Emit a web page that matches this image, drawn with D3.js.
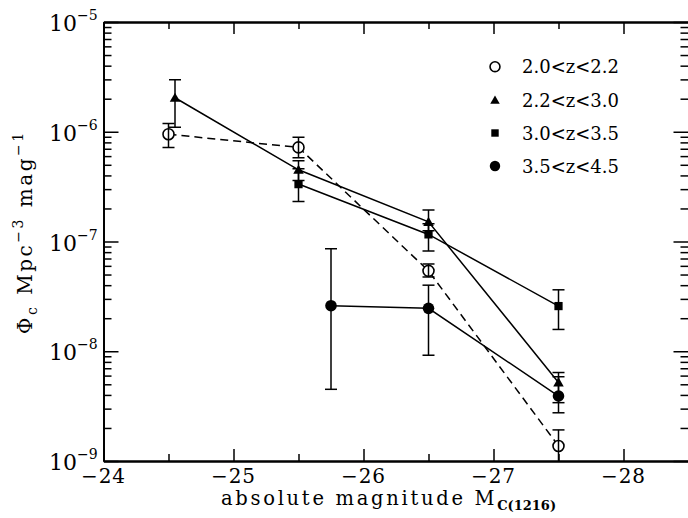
<!DOCTYPE html>
<html>
<head>
<meta charset="utf-8">
<script src="https://cdn.jsdelivr.net/npm/d3@7"></script>
<style>
  html, body { margin: 0; padding: 0; background: #fff; }
  svg { display: block; }
  text { font-family: "DejaVu Serif", "Liberation Serif", serif; fill: #000; }
</style>
</head>
<body>
<svg id="chart" width="688" height="518"></svg>
<script>
// Luminosity function per redshift bin: magnitude, value, lower and upper error
const seriesNames = ["2.0<z<2.2", "2.2<z<3.0", "3.0<z<3.5", "3.5<z<4.5"];

const magZ1 = [-24.5, -25.5, -26.5, -27.5];
const phiZ1 = [9.5e-7, 7.2e-7, 5.4e-8, 1.37e-9];
const loZ1  = [7.2e-7, 5.8e-7, 4.75e-8, 8e-10];
const hiZ1  = [1.19e-6, 8.9e-7, 6.24e-8, 1.92e-9];

const magZ2 = [-24.55, -25.5, -26.5, -27.5];
const phiZ2 = [2.04e-6, 4.5e-7, 1.51e-7, 5.2e-9];
const loZ2  = [1.1e-6, 3.6e-7, 1.25e-7, 3.4e-9];
const hiZ2  = [2.97e-6, 5.45e-7, 1.94e-7, 6.4e-9];

const magZ3 = [-25.5, -26.5, -27.5];
const phiZ3 = [3.34e-7, 1.16e-7, 2.58e-8];
const loZ3  = [2.31e-7, 8.2e-8, 1.58e-8];
const hiZ3  = [4.6e-7, 1.45e-7, 3.63e-8];

const magZ4 = [-25.75, -26.5, -27.5];
const phiZ4 = [2.6e-8, 2.46e-8, 3.91e-9];
const loZ4  = [4.5e-9, 9.2e-9, 2.75e-9];
const hiZ4  = [8.6e-8, 4.0e-8, 5.86e-9];

const xMajorTicks = [-24, -25, -26, -27, -28];
const xMinorTicks = [-24.5, -25.5, -26.5, -27.5, -28.5];
const yMajorTicks = [1e-9, 1e-8, 1e-7, 1e-6, 1e-5];
const yTickExponents = ["−9", "−8", "−7", "−6", "−5"];

const build = (mag, phi, lo, hi) => mag.map((m, i) => ({ m, v: phi[i], lo: lo[i], hi: hi[i] }));
const series = [
  { name: seriesNames[0], data: build(magZ1, phiZ1, loZ1, hiZ1), symbol: "open",     dash: "8,5" },
  { name: seriesNames[1], data: build(magZ2, phiZ2, loZ2, hiZ2), symbol: "triangle", dash: null },
  { name: seriesNames[2], data: build(magZ3, phiZ3, loZ3, hiZ3), symbol: "square",   dash: null },
  { name: seriesNames[3], data: build(magZ4, phiZ4, loZ4, hiZ4), symbol: "filled",   dash: null }
];

const frameLeft = 103.5, frameRight = 688.5, frameTop = 22, frameBottom = 461;
const svg = d3.select("#chart");

const x = d3.scaleLinear().domain([-24, -28.5]).range([frameLeft, frameRight]);
const y = d3.scaleLog().domain([1e-9, 1e-5]).range([frameBottom, frameTop]);

// minor ticks on the log axis: 2..9 in each decade
const yMinorTicks = [];
for (let e = -9; e < -5; e++) for (let k = 2; k <= 9; k++) yMinorTicks.push(k * Math.pow(10, e));

// frame and inward ticks
function drawAxis(gen, transform) {
  const g = svg.append("g").attr("transform", transform).call(gen);
  g.select(".domain").attr("stroke", "#000").attr("stroke-width", 1.8);
  g.selectAll(".tick line").attr("stroke", "#000").attr("stroke-width", 1.5);
  g.selectAll(".tick text").remove();
  return g;
}
drawAxis(d3.axisBottom(x).tickValues(xMajorTicks).tickSizeInner(-12).tickSizeOuter(0), `translate(0,${frameBottom})`);
drawAxis(d3.axisBottom(x).tickValues(xMinorTicks).tickSizeInner(-7).tickSizeOuter(0), `translate(0,${frameBottom})`);
drawAxis(d3.axisTop(x).tickValues(xMajorTicks).tickSizeInner(-12).tickSizeOuter(0), `translate(0,${frameTop})`);
drawAxis(d3.axisTop(x).tickValues(xMinorTicks).tickSizeInner(-7).tickSizeOuter(0), `translate(0,${frameTop})`);
drawAxis(d3.axisLeft(y).tickValues(yMajorTicks).tickSizeInner(-15).tickSizeOuter(0), `translate(${frameLeft},0)`);
drawAxis(d3.axisLeft(y).tickValues(yMinorTicks).tickSizeInner(-8).tickSizeOuter(0), `translate(${frameLeft},0)`);
drawAxis(d3.axisRight(y).tickValues(yMajorTicks).tickSizeInner(-15).tickSizeOuter(0), `translate(${frameRight},0)`);
drawAxis(d3.axisRight(y).tickValues(yMinorTicks).tickSizeInner(-8).tickSizeOuter(0), `translate(${frameRight},0)`);

// x tick labels
svg.append("g").selectAll("text").data(xMajorTicks).join("text")
  .attr("x", d => x(d)).attr("y", frameBottom + 22)
  .attr("text-anchor", "middle").attr("font-size", 20).attr("letter-spacing", 1)
  .text(d => "−" + Math.abs(d));

// y tick labels with exponents
const yl = svg.append("g").selectAll("text").data(yMajorTicks).join("text")
  .attr("x", 49).attr("y", d => y(d) + 9).attr("font-size", 22);
yl.append("tspan").text("10");
yl.append("tspan").attr("dy", -11).attr("font-size", 14).text((d, i) => yTickExponents[i]);

// axis titles
const xt = svg.append("text").attr("x", 221).attr("y", 505).attr("font-size", 19.5)
  .attr("letter-spacing", 2.7);
xt.append("tspan").text("absolute magnitude M");
xt.append("tspan").attr("dy", 5).attr("font-size", 13).attr("font-weight", "bold")
  .attr("letter-spacing", 0).text("C(1216)");

const yt = svg.append("text").attr("transform", "translate(32,334) rotate(-90)")
  .attr("font-size", 20).attr("letter-spacing", 2.5);
yt.append("tspan").text("Φ");
yt.append("tspan").attr("dy", 5).attr("font-size", 14).text("c");
yt.append("tspan").attr("dy", -5).attr("dx", 10).text("Mpc");
yt.append("tspan").attr("dy", -9).attr("font-size", 14).text("−3");
yt.append("tspan").attr("dy", 9).attr("dx", 10).text("mag");
yt.append("tspan").attr("dy", -9).attr("font-size", 14).text("−1");

// plot content clipped to the frame
svg.append("clipPath").attr("id", "plotClip").append("rect")
  .attr("x", frameLeft).attr("y", frameTop).attr("width", frameRight - frameLeft).attr("height", frameBottom - frameTop);
const plot = svg.append("g").attr("clip-path", "url(#plotClip)");

const line = d3.line().x(d => x(d.m)).y(d => y(d.v));

function symbol(sel, type, cx, cy, scale) {
  const s = scale || 1;
  if (type === "open") {
    sel.append("circle").attr("cx", cx).attr("cy", cy).attr("r", 5.5 * s)
      .attr("fill", "#fff").attr("stroke", "#000").attr("stroke-width", 1.6);
  } else if (type === "filled") {
    sel.append("circle").attr("cx", cx).attr("cy", cy).attr("r", 5.8 * s).attr("fill", "#000");
  } else if (type === "square") {
    sel.append("path").attr("transform", `translate(${cx},${cy})`)
      .attr("d", d3.symbol(d3.symbolSquare, 68 * s * s)).attr("fill", "#000");
  } else {
    sel.append("path").attr("transform", `translate(${cx},${cy + 1})`)
      .attr("d", d3.symbol(d3.symbolTriangle, 48 * s * s)).attr("fill", "#000");
  }
}

series.forEach(s => {
  plot.append("path").datum(s.data).attr("d", line)
    .attr("fill", "none").attr("stroke", "#000").attr("stroke-width", 1.5)
    .attr("stroke-dasharray", s.dash);
});

series.forEach(s => {
  const g = plot.append("g");
  s.data.forEach(d => symbol(g, s.symbol, x(d.m), y(d.v)));
  // error bars with caps
  s.data.forEach(d => {
    const cx = x(d.m);
    g.append("line").attr("x1", cx).attr("x2", cx).attr("y1", y(d.lo)).attr("y2", y(d.hi))
      .attr("stroke", "#000").attr("stroke-width", 1.5);
    [d.lo, d.hi].forEach(v => {
      g.append("line").attr("x1", cx - 6).attr("x2", cx + 6).attr("y1", y(v)).attr("y2", y(v))
        .attr("stroke", "#000").attr("stroke-width", 1.5);
    });
  });
});

// legend
const legendRows = [66.7, 100, 133, 166];
const lg = svg.append("g");
series.forEach((s, i) => {
  symbol(lg, s.symbol, 495, legendRows[i], 0.9);
  lg.append("text").attr("x", 522).attr("y", legendRows[i] + 6.5)
    .attr("font-size", 18).text(s.name);
});
</script>
</body>
</html>
